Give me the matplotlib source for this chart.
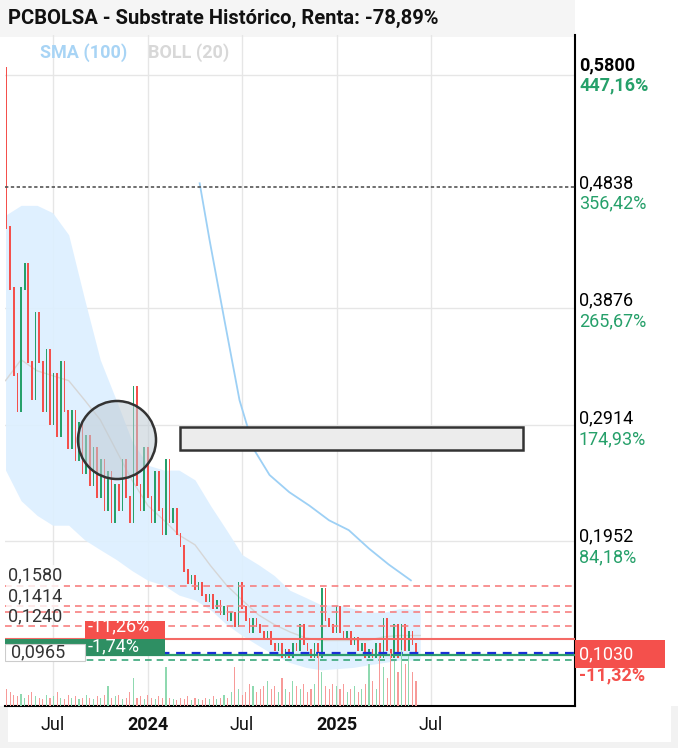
import matplotlib
matplotlib.use("Agg")
import matplotlib.pyplot as plt
import matplotlib.dates as mdates
from matplotlib.patches import Rectangle, Ellipse
import numpy as np
import pandas as pd

plt.rcParams['font.family'] = ['Roboto', 'DejaVu Sans']

# ---------------- data ----------------
start_week = "2023-04-03"
closes = [0.45, 0.40, 0.33, 0.30,
          0.40, 0.42, 0.34, 0.31, 0.38,
          0.34, 0.30, 0.35, 0.29,
          0.33, 0.28, 0.34, 0.30, 0.27,
          0.30, 0.26, 0.29, 0.25,
          0.28, 0.24, 0.27, 0.23,
          0.26, 0.22, 0.25, 0.21, 0.24,
          0.22, 0.26, 0.23, 0.21,
          0.32, 0.24, 0.22, 0.27,
          0.23, 0.21, 0.25, 0.22, 0.20,
          0.26, 0.21, 0.22, 0.20,
          0.19, 0.17, 0.16, 0.165,
          0.155, 0.16, 0.15, 0.145, 0.15,
          0.14, 0.145, 0.135, 0.14,
          0.13, 0.135, 0.125, 0.16,
          0.14, 0.13, 0.12, 0.13, 0.125,
          0.12, 0.115, 0.12, 0.11,
          0.105, 0.11, 0.10, 0.105,
          0.10, 0.11, 0.105, 0.125, 0.11,
          0.105, 0.10, 0.11, 0.10,
          0.155, 0.13, 0.125, 0.12,
          0.14, 0.12, 0.115, 0.12, 0.11,
          0.115, 0.105, 0.11, 0.10,
          0.105, 0.10, 0.11, 0.10,
          0.13, 0.105, 0.10, 0.125,
          0.10, 0.125, 0.105, 0.12,
          0.11, 0.103]
first_open = 0.58
volumes = [0.30, 0.25, 0.20, 0.18, 0.22, 0.15, 0.20, 0.25, 0.18, 0.15,
           0.12, 0.20, 0.15, 0.18, 0.25, 0.15, 0.12, 0.20, 0.15, 0.18,
           0.12, 0.15, 0.20, 0.14, 0.12, 0.18, 0.15, 0.20, 0.35, 0.15,
           0.18, 0.20, 0.12, 0.15, 0.25, 0.50, 0.15, 0.18, 0.12, 0.20,
           0.15, 0.12, 0.18, 0.15, 0.70, 0.15, 0.12, 0.10, 0.15, 0.12,
           0.18, 0.10, 0.15, 0.12, 0.10, 0.15, 0.12, 0.18, 0.12, 0.15,
           0.20, 0.15, 0.25, 0.70, 0.30, 0.20, 0.25, 0.40, 0.35, 0.25,
           0.30, 0.35, 0.45, 0.30, 0.35, 0.25, 0.50, 0.30, 0.25, 0.45,
           0.35, 0.30, 0.40, 0.25, 0.30, 0.40, 0.95, 0.60, 0.35, 0.30,
           0.40, 0.35, 0.30, 0.40, 0.25, 0.30, 0.35, 0.25, 0.30, 0.40,
           0.75, 0.45, 0.30, 0.90, 0.70, 0.50, 0.95, 0.80, 0.60, 1.00,
           0.75, 0.90, 0.60, 0.45]

band_dates = ["2023-04-01", "2023-05-01", "2023-06-01", "2023-07-01", "2023-08-01",
              "2023-09-01", "2023-10-01", "2023-11-01", "2023-12-01", "2024-01-01",
              "2024-02-01", "2024-03-01", "2024-04-01", "2024-05-01", "2024-06-01",
              "2024-07-01", "2024-08-01", "2024-09-01", "2024-10-01", "2024-11-01",
              "2024-12-01", "2025-01-01", "2025-02-01", "2025-03-01", "2025-04-01",
              "2025-05-01", "2025-06-10"]
boll_upper = [0.461, 0.469, 0.469, 0.463, 0.445, 0.392, 0.343, 0.310, 0.277, 0.257,
              0.253, 0.253, 0.245, 0.224, 0.204, 0.184, 0.176, 0.167, 0.155, 0.149,
              0.143, 0.143, 0.140, 0.137, 0.137, 0.140, 0.139]
boll_lower = [0.253, 0.228, 0.216, 0.208, 0.208, 0.196, 0.188, 0.180, 0.171, 0.163,
              0.159, 0.151, 0.147, 0.139, 0.127, 0.118, 0.110, 0.102, 0.096, 0.092,
              0.090, 0.091, 0.092, 0.094, 0.096, 0.098, 0.098]
boll_mid = [0.326, 0.343, 0.334, 0.330, 0.326, 0.310, 0.294, 0.269, 0.245, 0.224,
            0.212, 0.200, 0.192, 0.175, 0.159, 0.147, 0.135, 0.127, 0.121, 0.116,
            0.114, 0.114, 0.114, 0.114, 0.117, 0.118, 0.118]

sma_dates = ["2024-04-10", "2024-04-29", "2024-05-28", "2024-06-26", "2024-07-25",
             "2024-08-23", "2024-09-30", "2024-11-08", "2024-12-16", "2025-01-23",
             "2025-03-03", "2025-04-10", "2025-05-23"]
sma_values = [0.487, 0.441, 0.375, 0.310, 0.269, 0.249, 0.235, 0.224, 0.212, 0.204,
              0.189, 0.176, 0.163]

price_ticks = [0.5800, 0.4838, 0.3876, 0.2914, 0.1952]
pct_labels = ["447,16%", "356,42%", "265,67%", "174,93%", "84,18%"]
red_levels = [0.1583, 0.1420, 0.1370, 0.1255]
last_price = 0.1030
x_tick_dates = ["2023-07-01", "2024-01-01", "2024-07-01", "2025-01-01", "2025-07-01"]
x_tick_labels = ["Jul", "2024", "Jul", "2025", "Jul"]

# ---------------- figure ----------------
W, H = 678, 748
fig = plt.figure(figsize=(W/100, H/100), dpi=100)
fig.patch.set_facecolor('white')
L, R, B, T = 5, 575, 706, 35

fig.patches.append(Rectangle((0, 1-37/H), 575/W, 37/H, transform=fig.transFigure, fc='#f5f5f5', ec='none', zorder=-5))
fig.patches.append(Rectangle((0, 0), 1, (H-B)/H, transform=fig.transFigure, fc='#f2f2f2', ec='none', zorder=-5))
fig.patches.append(Rectangle((8/W, 6/H), 663/W, (B-6)/H, transform=fig.transFigure, fc='white', ec='none', zorder=-4))

ax = fig.add_axes([L/W, 1-B/H, (R-L)/W, (B-T)/H])
ax.set_facecolor('none')

dates = pd.date_range(start_week, periods=len(closes), freq="7D")
xd = mdates.date2num(dates)
opens = [first_open] + closes[:-1]
GREEN, RED = '#26a06a', '#f4504c'
colors = [GREEN if c >= o else RED for o, c in zip(opens, closes)]

x0 = mdates.date2num(pd.Timestamp("2023-03-31"))
x1 = mdates.date2num(pd.Timestamp("2026-04-05"))

xt = [mdates.date2num(pd.Timestamp(d)) for d in x_tick_dates]
for x in xt:
    ax.axvline(x, color='#e6e6e6', lw=1, zorder=0)
for p in [0.575, 0.385, 0.29, 0.195]:
    ax.axhline(p, color='#e6e6e6', lw=1, zorder=0)

axv = ax.twinx()
axv.patch.set_visible(False)
vcol = ['#8fd9b0' if c == GREEN else '#f79a98' for c in colors]
axv.bar(xd, volumes, width=2.2, color=vcol, zorder=1)
axv.set_ylim(0, 12)
axv.set_axis_off()

bd = mdates.date2num(pd.to_datetime(band_dates))
ax.fill_between(bd, boll_lower, boll_upper, color='#dcefff', alpha=0.9, lw=0, zorder=1)
ax.plot(bd, boll_mid, color='#d6d6d6', lw=1, zorder=2)

ax.plot(mdates.date2num(pd.to_datetime(sma_dates)), sma_values, color='#9dd0f5', lw=1.3, zorder=2)

for x, o, c, col in zip(xd, opens, closes, colors):
    ax.add_patch(Rectangle((x - 1.6, min(o, c)), 3.2, abs(c - o) + 0.002, color=col, lw=0, zorder=3))

ax.axhline(0.4838, color='#555555', lw=1.2, ls=(0, (2, 1.5)), zorder=4)
for lv in red_levels:
    ax.axhline(lv, color='#f78080', lw=1.2, ls=(0, (4, 3)), zorder=4)
ax.axhline(0.1150, color='#f46a66', lw=1.5, zorder=4)
ax.axhline(0.1037, color='#1a2fd6', lw=1.6, ls=(0, (4, 3)), zorder=5)
ax.axhline(0.1020, color='#2e9e6e', lw=1.6, zorder=4)
ax.axhline(0.0980, color='#3aa77a', lw=1.2, ls=(0, (4, 3)), zorder=4)

ax.add_patch(Ellipse(((117-L)/(R-L), (B-440)/(B-T)), 78/(R-L), 78/(B-T), transform=ax.transAxes,
                     facecolor='#bfcbd4', alpha=0.55, edgecolor='none', zorder=6))
ax.add_patch(Ellipse(((117-L)/(R-L), (B-440)/(B-T)), 78/(R-L), 78/(B-T), transform=ax.transAxes,
                     facecolor='none', edgecolor='#333333', lw=1.8, zorder=6))
ax.add_patch(Rectangle(((180-L)/(R-L), (B-450)/(B-T)), (523-180)/(R-L), 23/(B-T),
                       transform=ax.transAxes, facecolor='#ececec', edgecolor='#333333', lw=1.8, zorder=6))

ax.set_xlim(x0, x1)
axv.set_xlim(x0, x1)
ax.set_ylim(0.0605, 0.608)

for s in ['top', 'left']:
    ax.spines[s].set_visible(False)
ax.spines['right'].set_color('black'); ax.spines['right'].set_linewidth(1.5)
ax.spines['bottom'].set_color('black'); ax.spines['bottom'].set_linewidth(1.5)
ax.set_yticks([])
ax.set_xticks([])

for x, lab in zip(xt, x_tick_labels):
    ax.text(x, -0.028, lab, transform=ax.get_xaxis_transform(), fontsize=13, ha='center', va='center',
            fontweight='bold' if lab.isdigit() else 'normal', color='#111', clip_on=False)

for i, (p, pl) in enumerate(zip(price_ticks, pct_labels)):
    fw = 'bold' if i == 0 else 'normal'
    ax.text(1.007, p + 0.0035, f"{p:.4f}".replace('.', ','), transform=ax.get_yaxis_transform(),
            fontsize=13, color='black', fontweight=fw, va='center', ha='left')
    ax.text(1.007, p - 0.0135, pl, transform=ax.get_yaxis_transform(),
            fontsize=13, color='#26a06a', fontweight=fw, va='center', ha='left')
ax.add_patch(Rectangle((1.0, 0.0915), 90/(R-L), 0.0225, transform=ax.get_yaxis_transform(),
                       fc='#f4504c', ec='none', zorder=9, clip_on=False))
ax.text(1.007, last_price, "0,1030", transform=ax.get_yaxis_transform(), fontsize=13, color='white',
        va='center', ha='left', zorder=10)
ax.text(1.007, 0.0855, "-11,32%", transform=ax.get_yaxis_transform(), fontsize=13, color='#f4504c',
        fontweight='bold', va='center', ha='left')

ax.text(0.005, 0.167, "0,1580", transform=ax.get_yaxis_transform(), fontsize=13, color='#333', va='center',
        bbox=dict(boxstyle='square,pad=0.1', fc='white', ec='none', alpha=0.8), zorder=8)
ax.text(0.005, 0.150, "0,1414", transform=ax.get_yaxis_transform(), fontsize=13, color='#333', va='center',
        bbox=dict(boxstyle='square,pad=0.1', fc='white', ec='none', alpha=0.8), zorder=8)
ax.text(0.005, 0.134, "0,1240", transform=ax.get_yaxis_transform(), fontsize=13, color='#333', va='center', zorder=7)
ax.add_patch(Rectangle((0.14, 0.1135), 0.14, 0.016, transform=ax.get_yaxis_transform(),
                       fc='#f4504c', ec='none', zorder=8))
ax.text(0.145, 0.1255, "-11,26%", transform=ax.get_yaxis_transform(), fontsize=13, color='white', va='center', zorder=8)
ax.add_patch(Rectangle((0.0, 0.1017), 0.28, 0.0135, transform=ax.get_yaxis_transform(),
                       fc='#2e8f63', ec='none', zorder=9))
ax.add_patch(Rectangle((0.0, 0.0975), 0.14, 0.0135, transform=ax.get_yaxis_transform(),
                       fc='white', ec='#cccccc', lw=0.8, zorder=9))
ax.text(0.145, 0.1095, "-1,74%", transform=ax.get_yaxis_transform(), fontsize=13, color='white', va='center', zorder=10)
ax.text(0.01, 0.1042, "0,0965", transform=ax.get_yaxis_transform(), fontsize=13, color='#333', va='center', zorder=10)

fig.text(40/W, 1-53/H, "SMA (100)", fontsize=13, color='#a8d4f5', fontweight='bold', va='center')
fig.text(148/W, 1-53/H, "BOLL (20)", fontsize=13, color='#d8d8d8', fontweight='bold', va='center')

fig.text(8/W, 1-18/H, "PCBOLSA - Substrate Histórico, Renta: -78,89%", fontsize=14.5, fontweight='bold',
         color='#111', va='center')

fig.savefig("out.png", dpi=100)
